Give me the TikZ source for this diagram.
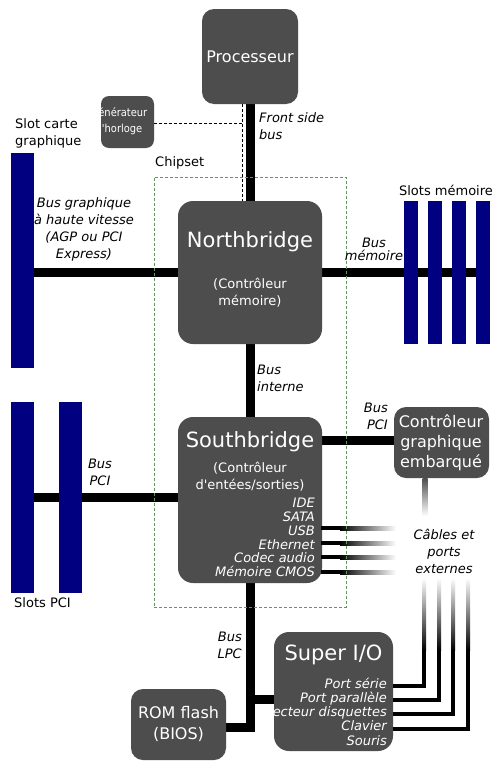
\documentclass[tikz,border=0pt]{standalone}
\usepackage{fontspec}
\setmainfont{DejaVu Sans}
\newfontfamily\condfont{DejaVu Sans Condensed}
\newfontfamily\straightfont{DejaVu Sans}
\pgfdeclarelayer{bg}
\pgfsetlayers{bg,main}
\definecolor{boxgray}{RGB}{77,77,77}
\definecolor{slotblue}{RGB}{0,0,128}
\definecolor{chipgreen}{RGB}{100,150,100}
\begin{document}
\begin{tikzpicture}[x=1pt,y=-1pt,
 box/.style={fill=boxgray, rounded corners=12pt, inner sep=0pt, text=white},
 slot/.style={fill=slotblue, inner sep=0pt},
 bus/.style={line width=9pt},
 cable/.style={line width=4pt, line join=miter},
 clkline/.style={line width=1pt, dash pattern=on 3pt off 2pt},
 lbl/.style={font=\fontsize{13}{17}\selectfont\itshape, inner sep=0pt},
 plain/.style={font=\fontsize{13}{17}\selectfont, inner sep=0pt},
 wtext/.style={text=white, inner sep=0pt},
 title/.style={wtext, font=\fontsize{21}{25}\selectfont},
 sub/.style={wtext, font=\straightfont\fontsize{13}{17}\selectfont, align=center},
 ilist/.style={wtext, font=\fontsize{13}{13.8}\selectfont\itshape, align=right, anchor=east},
]
\useasboundingbox (0,0) rectangle (500,771);

% boxes
\node[box, font=\fontsize{16}{20}\selectfont, minimum width=96, minimum height=95] (cpu) at (250,56.5) {Processeur};
\node[box, rounded corners=8pt, minimum width=53, minimum height=52] (clk) at (127.5,122) {};
\node[box, rounded corners=15pt, minimum width=144, minimum height=143] (nb) at (250,272.5) {};
\node[box, rounded corners=15pt, minimum width=144, minimum height=166] (sb) at (250,500) {};
\node[box, minimum width=95, minimum height=71] (gfx) at (441.5,442.5) {};
\node[box, minimum width=95, minimum height=71] (rom) at (178.5,724.5) {};
\node[box, rounded corners=15pt, minimum width=119, minimum height=119] (sio) at (333.5,691.5) {};

% slots
\node[slot, minimum width=23, minimum height=215] (agps) at (22.5,260.5) {};
\node[slot, minimum width=23, minimum height=191] (pci1) at (22.5,497.5) {};
\node[slot, minimum width=23, minimum height=191] (pci2) at (70,497.5) {};
\foreach \i/\x in {1/411,2/435,3/459,4/483}
  \node[slot, minimum width=14, minimum height=143] (mem\i) at (\x,272.5) {};

% buses
\begin{pgfonlayer}{bg}
\fill[white] (0,0) rectangle (500,771);
\draw[bus] (cpu.south) -- (nb.north);
\draw[bus] (agps.east |- nb.west) -- (nb.west);
\draw[bus] (nb.east) -- (mem4.center);
\draw[bus] (nb.south) -- (sb.north);
\draw[bus] (pci1.east |- 0,497) -- (sb.west |- 0,497);
\draw[bus] (sb.east |- 0,440) -- (gfx.west |- 0,440);
\coordinate (lpcc) at (250,727);
\draw[bus, line join=miter] (sb.south) -- (lpcc) -- (rom.east |- lpcc);
\coordinate (lpct) at (250,699);
\draw[bus] (lpct) -- (sio.west |- lpct);
\end{pgfonlayer}

% clock line
\coordinate (fsbL) at (242,123);
\draw[clkline] (clk.east |- fsbL) -- (fsbL);
\draw[clkline] (cpu.south -| fsbL) -- (nb.north -| fsbL);

% southbridge cables
\foreach \y in {528,543,557,572} {
  \fill[black] (321,\y-2) rectangle (340,\y+2);
  \shade[left color=black, right color=white] (340,\y-2) rectangle (396,\y+2);
}
% super I/O cables
\foreach \y/\x in {686/424, 700/439, 714/453, 729/468} {
  \draw[cable] (sio.east |- 0,\y) -- (\x,\y) -- (\x,650);
  \shade[top color=white, bottom color=black] (\x-2,578) rectangle (\x+2,650.5);
}
% graphics controller cable
\shade[top color=boxgray, bottom color=white] (422.5,478) rectangle (427.5,516);

% chipset
\node[draw=chipgreen, dash pattern=on 3pt off 2pt, line width=0.8pt, minimum width=192, minimum height=430, inner sep=0pt] (chipset) at (250,392) {};

% texts in boxes
\node[wtext, font=\condfont\fontsize{11}{16}\selectfont, align=center] (clkt) at (119,121) {Générateur\\d'horloge};
\node[title] (nbt) at (250,242) {Northbridge};
\node[sub] (nbs) at (250,292.5) {(Contrôleur\\mémoire)};
\node[title] (sbt) at (250,442) {Southbridge};
\node[sub] (sbs) at (250,476.5) {(Contrôleur\\d'entées/sorties)};
\node[ilist] (sbl) at (315,537.5) {IDE\\SATA\\USB\\Ethernet\\Codec audio\\Mémoire CMOS};
\node[wtext, font=\fontsize{16}{20}\selectfont, align=center] (gfxt) at (441,443) {Contrôleur\\graphique\\embarqué};
\node[wtext, font=\fontsize{16}{21}\selectfont, align=center] (romt) at (178.5,723.5) {ROM flash\\(BIOS)};
\node[title] (siot) at (333.5,655) {Super I/O};
\node[ilist, font=\fontsize{13}{14.25}\selectfont\itshape] (siol) at (387,711.5) {Port série\\Port parallèle\\Lecteur disquettes\\Clavier\\Souris};

% labels
\node[lbl, anchor=west, align=left] (fsbl) at (259,126.5) {Front side\\bus};
\node[plain, anchor=west, align=left] (agpsl) at (15,133) {Slot carte\\graphique};
\node[plain, anchor=west] (chipl) at (155,163) {Chipset};
\node[lbl, align=center] (agpl) at (84,229) {Bus graphique\\à haute vitesse\\(AGP ou PCI\\Express)};
\node[plain] (memsl) at (446,190) {Slots mémoire};
\node[lbl, align=center, font=\fontsize{13}{13}\selectfont\itshape] (meml) at (374,249.5) {Bus\\mémoire};
\node[lbl, anchor=west, align=left] (intl) at (257,378.5) {Bus\\interne};
\node[lbl, align=center] (pcil) at (100,472.5) {Bus\\PCI};
\node[lbl, anchor=east, align=right] (pcil2) at (388,416.5) {Bus\\PCI};
\node[lbl, align=center] (extl) at (444,551) {Câbles et\\ports\\externes};
\node[lbl, anchor=east, align=right] (lpcl) at (242,645.5) {Bus\\LPC};
\node[plain, anchor=west] (pcisl) at (14,603) {Slots PCI};
\end{tikzpicture}
\end{document}
